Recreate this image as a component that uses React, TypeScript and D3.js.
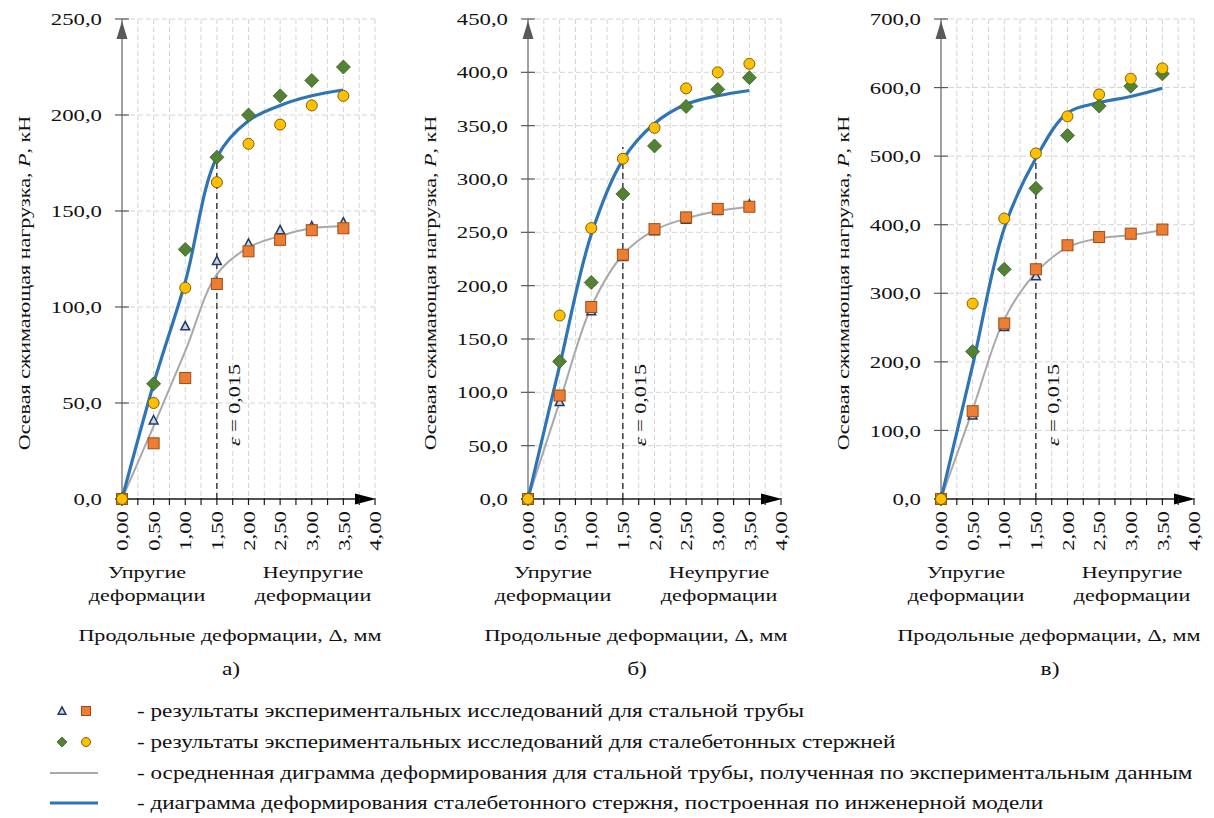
import React from "react";
import * as d3 from "d3";

// продольные деформации, мм
const deltas = [0, 0.5, 1, 1.5, 2, 2.5, 3, 3.5];

// панель а)
const blueA = [0, 60, 113, 178, 197, 205, 210, 213];
const grayA = [0, 38, 77, 117, 131, 137, 141, 142];
const triA = [0, 41, 90, 124, 133, 140, 142, 144];
const sqA = [0, 29, 63, 112, 129, 135, 140, 141];
const diaA = [0, 60, 130, 178, 200, 210, 218, 225];
const circA = [0, 50, 110, 165, 185, 195, 205, 210];

// панель б)
const blueB = [0, 125, 248, 318, 352, 370, 378, 383];
const grayB = [0, 91, 180, 229, 252, 263, 270, 274];
const triB = [0, 91, 176, 227, 251, 262, 270, 276];
const sqB = [0, 97, 180, 229, 253, 264, 272, 274];
const diaB = [0, 129, 203, 286, 331, 368, 384, 395];
const circB = [0, 172, 254, 319, 348, 385, 400, 408];

// панель в)
const blueC = [0, 195, 395, 497, 563, 578, 587, 599];
const grayC = [0, 130, 262, 330, 367, 380, 385, 392];
const triC = [0, 122, 251, 325, 370, 380, 385, 392];
const sqC = [0, 128, 256, 335, 370, 382, 387, 393];
const diaC = [0, 215, 335, 453, 530, 573, 602, 620];
const circC = [0, 285, 409, 504, 558, 590, 613, 628];

const yMaxes = [250, 450, 700];
const yStepsList = [50, 50, 100];
const epsTops = [180, 330, 505];
const letters = ["а)", "б)", "в)"];

const legendLabels = [
  "- результаты экспериментальных исследований для стальной трубы",
  "- результаты экспериментальных исследований для сталебетонных стержней",
  "- осредненная диграмма деформирования для стальной трубы, полученная по экспериментальным данным",
  "- диаграмма деформирования сталебетонного стержня, построенная по инженерной модели",
];

const FONT = "Liberation Serif";
const SX = 1.3;
const BLUE = "#2E75B6";
const GRAY = "#A9A9A9";

const fmt1 = (v: number) => d3.format(".1f")(v).replace(".", ",");
const fmt2 = (v: number) => d3.format(".2f")(v).replace(".", ",");

const T = ({x, y, rot = 0, anchor = "start", size = 17, dy, children}: any) => (
  <text
    transform={`translate(${x},${y}) rotate(${rot}) scale(${SX},1)`}
    textAnchor={anchor}
    style={{fontFamily: FONT, fontSize: size}}
    dy={dy}
    fill="#111"
  >
    {children}
  </text>
);

const Triangle = ({x, y, s = 8}: any) => (
  <path
    d={`M${x},${y - s * 0.6}L${x + s * 0.55},${y + s * 0.45}L${x - s * 0.55},${y + s * 0.45}Z`}
    fill="#cdd5e0"
    stroke="#1f3864"
    strokeWidth={1.5}
  />
);
const Square = ({x, y, s = 11}: any) => (
  <rect x={x - s / 2} y={y - s / 2} width={s} height={s} fill="#ED7D31" stroke="#9a4d1c" strokeWidth={1} />
);
const Diamond = ({x, y, s = 7}: any) => (
  <path d={`M${x},${y - s}L${x + s},${y}L${x},${y + s}L${x - s},${y}Z`} fill="#548235" stroke="#3b5e25" strokeWidth={0.8} />
);
const Circle = ({x, y, r = 5.5}: any) => (
  <circle cx={x} cy={y} r={r} fill="#FFC000" stroke="#7f6000" strokeWidth={1} />
);

const Panel = ({x0, yMax, yStep, blue, gray, tri, sq, dia, circ, epsTop, letter}: any) => {
  const x = d3.scaleLinear().domain([0, 4]).range([x0, x0 + 253]);
  const y = d3.scaleLinear().domain([0, yMax]).range([499, 19]);
  const yTicks = d3.range(0, yMax + 0.001, yStep);
  const xMinor = d3.range(0, 4.001, 0.25);
  const xMajor = d3.range(0, 4.001, 0.5);
  const line = d3
    .line<number>()
    .x((_, i) => x(deltas[i]))
    .y(d => y(d))
    .curve(d3.curveCatmullRom.alpha(0.5));
  const x1 = x(4);
  const y0 = y(0);
  const yTop = y(yMax);

  return (
    <g>
      {/* сетка */}
      {xMinor.slice(1).map(v => (
        <line key={"gx" + v} x1={x(v)} x2={x(v)} y1={yTop} y2={y0} stroke="#d4d4d4" strokeDasharray="5,3" />
      ))}
      {yTicks.slice(1).map(v => (
        <line key={"gy" + v} x1={x0} x2={x1} y1={y(v)} y2={y(v)} stroke="#d4d4d4" strokeDasharray="5,3" />
      ))}

      {/* ось Y */}
      <line x1={x0} x2={x0} y1={y0} y2={yTop} stroke="#808080" strokeWidth={1.5} />
      <path d={`M${x0},${yTop + 2}L${x0 + 5.5},${yTop + 20}L${x0 - 5.5},${yTop + 20}Z`} fill="#595959" />
      {yTicks.map(v => (
        <g key={"ty" + v}>
          <line x1={x0 - 7} x2={x0 + 7} y1={y(v)} y2={y(v)} stroke="#595959" strokeWidth={1.2} />
          <T x={x0 - 20} y={y(v)} anchor="end" dy="0.35em" size={17.5}>{fmt1(v)}</T>
        </g>
      ))}

      {/* ось X */}
      <line x1={x0} x2={x1 - 8} y1={y0} y2={y0} stroke="#1a1a1a" strokeWidth={1.5} />
      <path d={`M${x1 + 1},${y0}L${x1 - 20},${y0 - 5.5}L${x1 - 20},${y0 + 5.5}Z`} fill="#000" />
      {xMinor.map(v => (
        <line key={"tx" + v} x1={x(v)} x2={x(v)} y1={y0 - 1} y2={y0 + 6} stroke="#1a1a1a" strokeWidth={1.2} />
      ))}
      {xMajor.map(v => (
        <T key={"lx" + v} x={x(v)} y={y0 + 12} rot={-90} anchor="end" dy="0.35em" size={17.5}>{fmt2(v)}</T>
      ))}

      {/* граница упругих деформаций */}
      <line x1={x(1.5)} x2={x(1.5)} y1={y0} y2={y(epsTop)} stroke="#111" strokeWidth={1.2} strokeDasharray="6,4" />
      <T x={x(1.5) + 23} y={y0 - 94} rot={-90} anchor="middle" size={17}>
        <tspan fontStyle="italic">ε</tspan> = 0,015
      </T>

      {/* линии */}
      <path d={line(gray) || ""} fill="none" stroke={GRAY} strokeWidth={2} />
      <path d={line(blue) || ""} fill="none" stroke={BLUE} strokeWidth={3.2} />

      {/* точки */}
      {tri.map((v: number, i: number) => <Triangle key={"t" + i} x={x(deltas[i])} y={y(v)} />)}
      {sq.map((v: number, i: number) => <Square key={"s" + i} x={x(deltas[i])} y={y(v)} />)}
      {dia.map((v: number, i: number) => <Diamond key={"d" + i} x={x(deltas[i])} y={y(v)} />)}
      {circ.map((v: number, i: number) => <Circle key={"c" + i} x={x(deltas[i])} y={y(v)} />)}

      {/* подписи */}
      <T x={x0 - 92} y={283} rot={-90} anchor="middle">
        Осевая сжимающая нагрузка, <tspan fontStyle="italic">P</tspan>, кН
      </T>
      <T x={x0 + 25} y={578} anchor="middle">Упругие</T>
      <T x={x0 + 25} y={601} anchor="middle">деформации</T>
      <T x={x0 + 191} y={578} anchor="middle">Неупругие</T>
      <T x={x0 + 191} y={601} anchor="middle">деформации</T>
      <T x={x0 + 108} y={641} anchor="middle">Продольные деформации, Δ, мм</T>
      <T x={x0 + 109} y={675} anchor="middle" size={18}>{letter}</T>
    </g>
  );
};

const App = () => {
  const panels = [
    {x0: 122, blue: blueA, gray: grayA, tri: triA, sq: sqA, dia: diaA, circ: circA},
    {x0: 528, blue: blueB, gray: grayB, tri: triB, sq: sqB, dia: diaB, circ: circB},
    {x0: 941, blue: blueC, gray: grayC, tri: triC, sq: sqC, dia: diaC, circ: circC},
  ];
  const legendY = [717, 748, 779, 809];

  return (
    <svg width={1214} height={818} style={{position: "absolute", left: 0, top: 0, background: "#fff"}}>
      <rect width={1214} height={818} fill="#fff" />
      {panels.map((p, i) => (
        <Panel
          key={i}
          {...p}
          yMax={yMaxes[i]}
          yStep={yStepsList[i]}
          epsTop={epsTops[i]}
          letter={letters[i]}
        />
      ))}

      {/* легенда */}
      <Triangle x={62} y={legendY[0] - 6} s={7} />
      <Square x={86} y={legendY[0] - 6} s={9} />
      <Diamond x={62} y={legendY[1] - 6} s={5} />
      <Circle x={86} y={legendY[1] - 6} r={4.5} />
      <line x1={50} x2={98} y1={legendY[2] - 6} y2={legendY[2] - 6} stroke={GRAY} strokeWidth={2} />
      <line x1={50} x2={98} y1={legendY[3] - 6} y2={legendY[3] - 6} stroke={BLUE} strokeWidth={3} />
      {legendLabels.map((s, i) => (
        <T key={"lg" + i} x={137} y={legendY[i]} size={17.8}>{s}</T>
      ))}
    </svg>
  );
};

export default App;
